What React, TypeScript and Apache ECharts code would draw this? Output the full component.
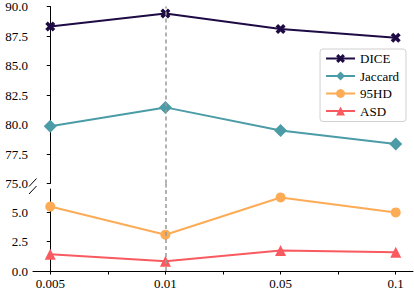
import React, { useEffect, useRef } from "react";
import * as echarts from "echarts";

const categories = ["0.005", "0.01", "0.05", "0.1"];
const diceValues = [88.3, 89.4, 88.1, 87.35];
const jaccardValues = [79.85, 81.45, 79.5, 78.35];
const hd95Values = [5.5, 3.1, 6.28, 5.0];
const asdValues = [1.42, 0.83, 1.75, 1.6];
const topTicks = [75, 77.5, 80, 82.5, 85, 87.5, 90];
const bottomTicks = [0, 2.5, 5];
const xTicks = [0, 0.5, 1, 1.5, 2, 2.5, 3];
const xLabelPositions = [0, 1, 2, 3];
const highlightIndex = 1;

const FONT = "'Liberation Serif', 'Times New Roman', serif";
const COLORS = {
  dice: "#1e0b45",
  jaccard: "#4b9ca6",
  hd: "#fdab55",
  asd: "#f85a60",
};
const XSYM =
  "path://M0,2.5 L2.5,0 L5,2.5 L7.5,0 L10,2.5 L7.5,5 L10,7.5 L7.5,10 L5,7.5 L2.5,10 L0,7.5 L2.5,5 Z";

const toPairs = (vals: number[]) => vals.map((v, i) => [i, v]);

export default function App() {
  const ref = useRef<HTMLDivElement>(null);
  useEffect(() => {
    document.body.style.margin = "0";
    if (!ref.current) return;
    const chart = echarts.init(ref.current, undefined, { renderer: "svg" });
    const labelStyle = {
      color: "#000",
      fontFamily: FONT,
      fontSize: 13,
    };
    const xAxisBase = {
      type: "value",
      min: -0.15,
      max: 3.15,
      splitLine: { show: false },
    };
    const markLine = {
      silent: true,
      symbol: "none",
      label: { show: false },
      lineStyle: { color: "#999", type: [4, 3], width: 1.5 },
      data: [{ xAxis: highlightIndex }],
    };
    chart.setOption({
      animation: false,
      backgroundColor: "#fff",
      textStyle: { fontFamily: FONT },
      grid: [
        { left: 33, top: 3.5, width: 380, height: 180 },
        { left: 33, top: 189, width: 380, height: 84 },
      ],
      xAxis: [
        {
          ...xAxisBase,
          gridIndex: 0,
          show: false,
        },
        {
          ...xAxisBase,
          gridIndex: 1,
          axisLine: { show: true, lineStyle: { color: "#000", width: 1 } },
          axisTick: {
            show: true,
            length: 3.5,
            lineStyle: { color: "#000" },
            customValues: xTicks,
          },
          axisLabel: {
            ...labelStyle,
            margin: 6,
            customValues: xLabelPositions,
            formatter: (v: number) => categories[Math.round(v)] ?? "",
          },
        },
      ],
      yAxis: [
        {
          type: "value",
          gridIndex: 0,
          min: 75,
          max: 90,
          splitLine: { show: false },
          axisLine: { show: true, lineStyle: { color: "#000", width: 1 } },
          axisTick: {
            show: true,
            length: 3.5,
            lineStyle: { color: "#000" },
            customValues: topTicks,
          },
          axisLabel: {
            ...labelStyle,
            margin: 5,
            customValues: topTicks,
            formatter: (v: number) => v.toFixed(1),
          },
        },
        {
          type: "value",
          gridIndex: 1,
          min: 0,
          max: 7,
          splitLine: { show: false },
          axisLine: { show: true, lineStyle: { color: "#000", width: 1 } },
          axisTick: {
            show: true,
            length: 3.5,
            lineStyle: { color: "#000" },
            customValues: bottomTicks,
          },
          axisLabel: {
            ...labelStyle,
            margin: 5,
            customValues: bottomTicks,
            formatter: (v: number) => v.toFixed(1),
          },
        },
      ],
      legend: {
        right: 8,
        top: 49,
        orient: "vertical",
        itemWidth: 29,
        itemHeight: 11,
        itemGap: 4.5,
        itemTextGap: 10,
        padding: [3, 7, 4, 5],
        borderColor: "#d0d0d0",
        borderWidth: 1,
        borderRadius: 3,
        backgroundColor: "#fff",
        textStyle: { fontFamily: FONT, fontSize: 13, color: "#000" },
        data: ["DICE", "Jaccard", "95HD", "ASD"],
      },
      series: [
        {
          name: "DICE",
          type: "line",
          xAxisIndex: 0,
          yAxisIndex: 0,
          data: toPairs(diceValues),
          symbol: XSYM,
          symbolSize: 10,
          itemStyle: { color: COLORS.dice },
          lineStyle: { color: COLORS.dice, width: 2 },
          markLine,
          z: 3,
        },
        {
          name: "Jaccard",
          type: "line",
          xAxisIndex: 0,
          yAxisIndex: 0,
          data: toPairs(jaccardValues),
          symbol: "diamond",
          symbolSize: 13,
          itemStyle: { color: COLORS.jaccard },
          lineStyle: { color: COLORS.jaccard, width: 2 },
          z: 3,
        },
        {
          name: "95HD",
          type: "line",
          xAxisIndex: 1,
          yAxisIndex: 1,
          data: toPairs(hd95Values),
          symbol: "circle",
          symbolSize: 10,
          itemStyle: { color: COLORS.hd },
          lineStyle: { color: COLORS.hd, width: 2 },
          markLine,
          z: 3,
        },
        {
          name: "ASD",
          type: "line",
          xAxisIndex: 1,
          yAxisIndex: 1,
          data: toPairs(asdValues),
          symbol: "triangle",
          symbolSize: 11,
          itemStyle: { color: COLORS.asd },
          lineStyle: { color: COLORS.asd, width: 2 },
          z: 3,
        },
      ],
      graphic: [
        {
          type: "line",
          shape: { x1: 166, y1: 183.5, x2: 166, y2: 189 },
          style: { stroke: "#999", lineWidth: 1.5, lineDash: [4, 3] },
        },
        {
          type: "line",
          shape: { x1: 29, y1: 186.5, x2: 36.5, y2: 178.5 },
          style: { stroke: "#000", lineWidth: 1 },
        },
        {
          type: "line",
          shape: { x1: 29, y1: 194, x2: 36.5, y2: 186 },
          style: { stroke: "#000", lineWidth: 1 },
        },
      ],
    });
    return () => chart.dispose();
  }, []);
  return <div ref={ref} style={{ width: 414, height: 290 }} />;
}
